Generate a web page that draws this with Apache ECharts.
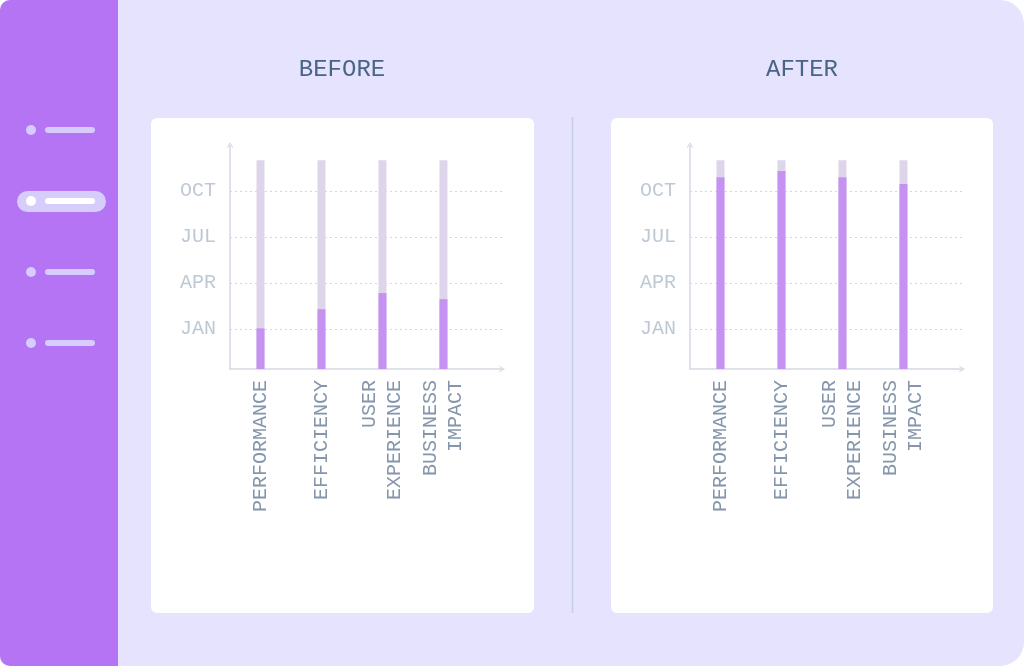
<!DOCTYPE html>
<html><head><meta charset="utf-8">
<script src="https://cdn.jsdelivr.net/npm/echarts@6/dist/echarts.min.js"></script>
<style>html,body{margin:0;padding:0;background:#ffffff}#c{width:1024px;height:666px}</style>
</head><body><div id="c"></div>
<script>
// ---- data (axis units: category index on x, months-from-axis-origin on y) ----
const categories = ['PERFORMANCE', 'EFFICIENCY', 'USER\nEXPERIENCE', 'BUSINESS\nIMPACT'];
const categoryPos = [0.5, 1.5, 2.5, 3.5];
const monthLabels = ['JAN', 'APR', 'JUL', 'OCT'];
const monthPos = [2.6, 5.6, 8.6, 11.6];
const trackValues = [13.6, 13.6, 13.6, 13.6];
const beforeValues = [2.65, 3.9, 4.95, 4.55];
const afterValues = [12.5, 12.9, 12.5, 12.05];
const panelTitles = ['BEFORE', 'AFTER'];

const MONO = '"Liberation Mono", "DejaVu Sans Mono", monospace';
const chart = echarts.init(document.getElementById('c'), null, {renderer: 'canvas'});

const chevron = 'path://M5,0 L10,8.6 L8.7,9.6 L5,2.9 L1.3,9.6 L0,8.6 Z';
const axisLineColor = '#D3DAE4';

function xAxisFor(gi) {
  return {
    type: 'value', gridIndex: gi, min: 0, max: 4.46,
    axisLine: {show: true, lineStyle: {color: axisLineColor, width: 1.5}, symbol: ['none', chevron], symbolSize: [8, 6]},
    axisTick: {show: false},
    splitLine: {show: false},
    axisLabel: {
      customValues: categoryPos,
      formatter: function (v) { const i = categoryPos.indexOf(v); return i >= 0 ? categories[i] : ''; },
      rotate: 90, margin: 11, color: '#8596AB', fontFamily: MONO, fontSize: 20, lineHeight: 25
    }
  };
}
function yAxisFor(gi) {
  return {
    type: 'value', gridIndex: gi, min: 0, max: 14.6,
    axisLine: {show: true, lineStyle: {color: axisLineColor, width: 1.5}, symbol: ['none', chevron], symbolSize: [8, 6]},
    axisTick: {show: false, customValues: monthPos},
    splitLine: {show: true, lineStyle: {color: '#D2D8E1', width: 1, type: [2, 3]}},
    axisLabel: {
      customValues: monthPos,
      formatter: function (v) { const i = monthPos.indexOf(v); return i >= 0 ? monthLabels[i] : ''; },
      margin: 14, color: '#BFC9D5', fontFamily: MONO, fontSize: 20
    }
  };
}
function pairs(vals) { return vals.map(function (v, i) { return [categoryPos[i], v]; }); }

const graphics = [
  {type: 'rect', shape: {x: 0, y: 0, width: 1024, height: 666, r: [10, 24, 24, 10]}, style: {fill: '#E6E3FE'}, z: -20},
  {type: 'rect', shape: {x: 0, y: 0, width: 118, height: 666, r: [10, 0, 0, 10]}, style: {fill: '#B474F4'}, z: -19},
  {type: 'rect', shape: {x: 151, y: 118, width: 383, height: 495, r: 6}, style: {fill: '#FFFFFF'}, z: -18},
  {type: 'rect', shape: {x: 611, y: 118, width: 382, height: 495, r: 6}, style: {fill: '#FFFFFF'}, z: -18},
  {type: 'line', shape: {x1: 572.5, y1: 117, x2: 572.5, y2: 613}, style: {stroke: '#C8CDE8', lineWidth: 1.5}, z: -18},
  {type: 'rect', shape: {x: 17, y: 191, width: 89, height: 21, r: 10.5}, style: {fill: '#D6CDFC'}, z: -17}
];
[130, 201, 272, 343].forEach(function (y, i) {
  const col = i === 1 ? '#FFFFFF' : '#D6CCFD';
  graphics.push({type: 'circle', shape: {cx: 31, cy: y, r: 5}, style: {fill: col}, z: -16});
  graphics.push({type: 'rect', shape: {x: 45, y: y - 3, width: 50, height: 6, r: 3}, style: {fill: col}, z: -16});
});
[342, 802].forEach(function (x, i) {
  graphics.push({type: 'text', x: x, y: 70, style: {text: panelTitles[i], fill: '#4A6484', font: '24px ' + MONO, textAlign: 'center', textVerticalAlign: 'middle'}, z: 10});
});

const option = {
  animation: false,
  graphic: {elements: graphics},
  grid: [
    {left: 230, top: 145, width: 272, height: 224},
    {left: 690, top: 145, width: 272, height: 224}
  ],
  xAxis: [xAxisFor(0), xAxisFor(1)],
  yAxis: [yAxisFor(0), yAxisFor(1)],
  series: [
    {type: 'bar', xAxisIndex: 0, yAxisIndex: 0, data: pairs(trackValues), barWidth: 8, barGap: '-100%', itemStyle: {color: '#DED5EA'}, z: 2},
    {type: 'bar', xAxisIndex: 0, yAxisIndex: 0, data: pairs(beforeValues), barWidth: 8, barGap: '-100%', itemStyle: {color: '#C592F1'}, z: 3},
    {type: 'bar', xAxisIndex: 1, yAxisIndex: 1, data: pairs(trackValues), barWidth: 8, barGap: '-100%', itemStyle: {color: '#DED5EA'}, z: 2},
    {type: 'bar', xAxisIndex: 1, yAxisIndex: 1, data: pairs(afterValues), barWidth: 8, barGap: '-100%', itemStyle: {color: '#C592F1'}, z: 3}
  ]
};
chart.setOption(option);
</script>
</body></html>
